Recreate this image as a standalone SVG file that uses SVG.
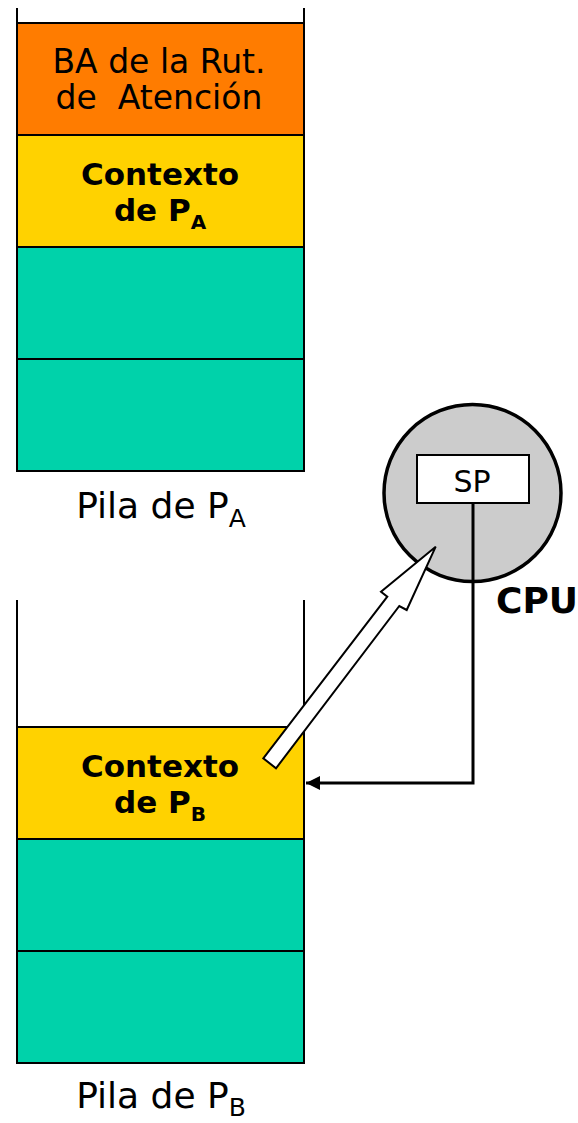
<svg xmlns="http://www.w3.org/2000/svg" width="578" height="1123" viewBox="0 0 578 1123">
<style>
.cell{stroke:#000;stroke-width:2}
.or{fill:#FF7C00}.ye{fill:#FFD200}.te{fill:#00D2AA}
.side{stroke:#000;stroke-width:2;fill:none}
.t{font-family:"DejaVu Sans","Verdana",sans-serif;fill:#000;text-anchor:middle}
.n{font-size:33px}.b{font-size:31px;font-weight:bold}
.p{font-size:36px}
</style>
<defs>
<marker id="ah" markerWidth="14" markerHeight="14" refX="14" refY="7" orient="auto" markerUnits="userSpaceOnUse">
<path d="M0,0 L14,7 L0,14 Z" fill="#000"/>
</marker>
</defs>
<g id="stackA">
<line class="side" x1="17" y1="8" x2="17" y2="23"/>
<line class="side" x1="304" y1="8" x2="304" y2="23"/>
<rect class="cell or" x="17" y="23" width="287" height="112"/>
<rect class="cell ye" x="17" y="135" width="287" height="112"/>
<rect class="cell te" x="17" y="247" width="287" height="112"/>
<rect class="cell te" x="17" y="359" width="287" height="112"/>
<text class="t n" x="159" y="73">BA de la Rut.</text>
<text class="t n" x="159" y="109" xml:space="preserve">de  Atención</text>
<text class="t b" x="160" y="185">Contexto</text>
<text class="t b" x="160" y="221">de P<tspan font-size="20" dy="8">A</tspan></text>
<text class="t p" x="161" y="518">Pila de P<tspan font-size="25" dy="9">A</tspan></text>
</g>
<g id="stackB">
<line class="side" x1="17" y1="600" x2="17" y2="727"/>
<line class="side" x1="304" y1="600" x2="304" y2="727"/>
<rect class="cell ye" x="17" y="727" width="287" height="112"/>
<rect class="cell te" x="17" y="839" width="287" height="112"/>
<rect class="cell te" x="17" y="951" width="287" height="112"/>
<text class="t b" x="160" y="777">Contexto</text>
<text class="t b" x="160" y="813">de P<tspan font-size="20" dy="8">B</tspan></text>
<text class="t p" x="161" y="1108">Pila de P<tspan font-size="25" dy="8">B</tspan></text>
</g>
<g id="cpu">
<circle cx="472.5" cy="493" r="88.5" fill="#CCCCCC" stroke="#000" stroke-width="3.5"/>
<rect x="417" y="455" width="112" height="48" fill="#fff" stroke="#000" stroke-width="2"/>
<text class="t" font-size="30" x="472" y="492">SP</text>
<text class="t" font-size="36" font-weight="bold" x="537" y="613">CPU</text>
</g>
<g id="connectors">
<polyline points="473,503 473,783 306,783" fill="none" stroke="#000" stroke-width="3" marker-end="url(#ah)"/>
<polygon points="263.3,758.3 387.3,596.7 381,591.7 435.7,546.7 406.7,610 399.3,606 276,768.3" fill="#fff" stroke="#000" stroke-width="2" stroke-linejoin="miter"/>
</g>
</svg>
